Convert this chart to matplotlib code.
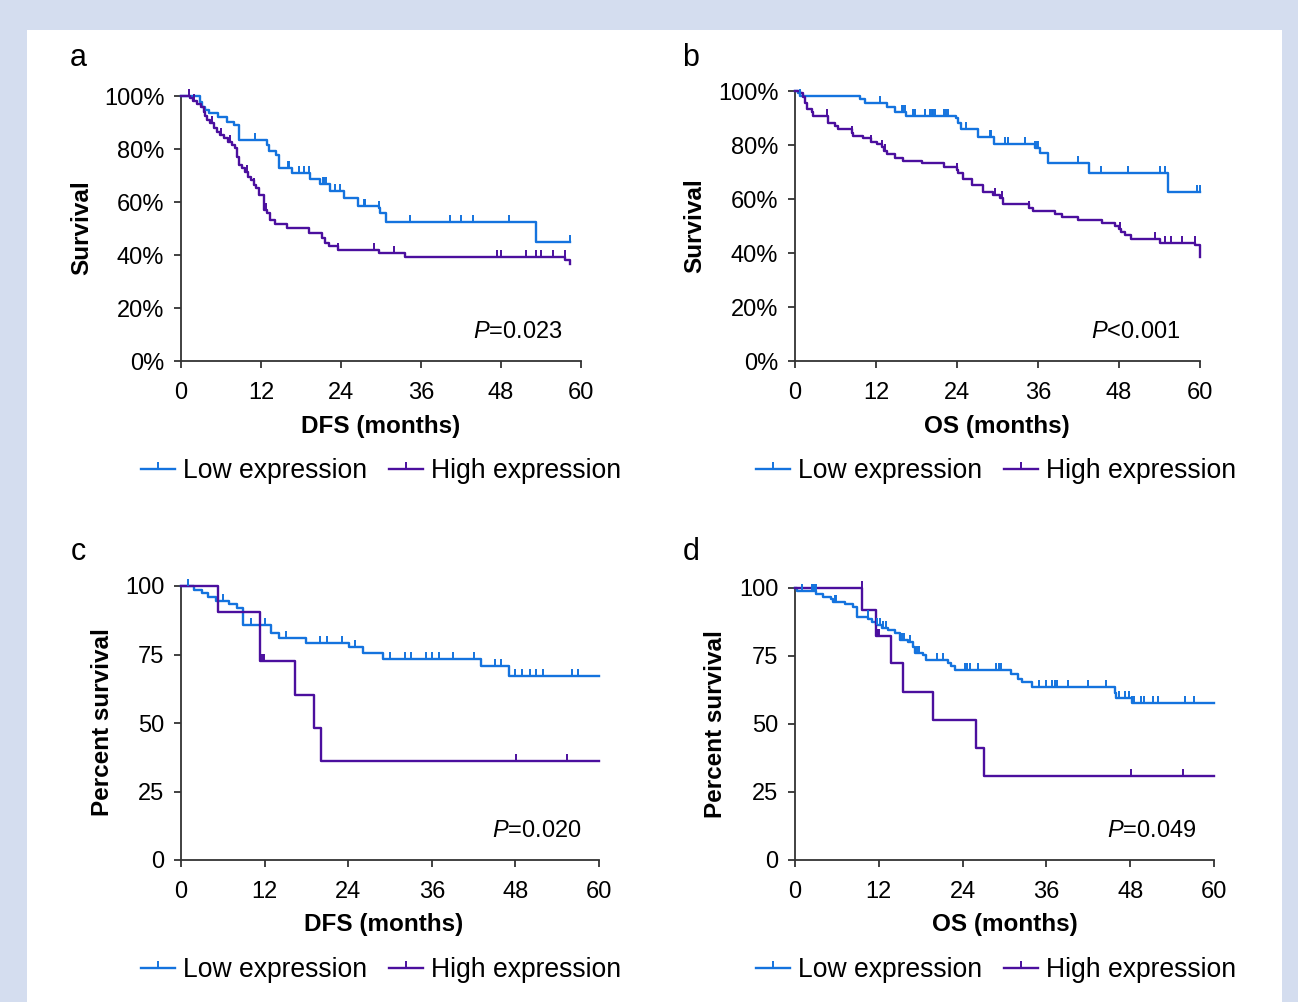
import numpy as np
import matplotlib
matplotlib.use("Agg")
import matplotlib.pyplot as plt
from matplotlib.path import Path
from matplotlib.lines import Line2D
from matplotlib.patches import Rectangle

plt.rcParams['font.family'] = ['Liberation Sans', 'DejaVu Sans']
plt.rcParams['mathtext.fontset'] = 'custom'
plt.rcParams['mathtext.rm'] = 'Liberation Sans'
plt.rcParams['mathtext.it'] = 'Liberation Sans:italic'

# ---------------- data ----------------
# Panel a: DFS, percent
a_low_t = [0, 2.9, 3.15, 3.65, 4.15, 5.55, 6.9, 8.0, 8.65, 12.9, 13.25, 14.25, 14.65, 16.65, 19.4,
           20.9, 22.4, 24.4, 26.55, 29.65, 29.8, 30.75, 53.25]
a_low_s = [100, 97.9, 96.0, 94.7, 93.5, 91.9, 90.3, 89.0, 83.4, 81.5, 79.2, 77.7, 72.9, 70.8, 68.7,
           66.8, 64.3, 61.6, 58.6, 57.6, 55.7, 52.3, 44.8]
a_low_end = 58.4
a_low_cens = [11.15, 16.0, 16.2, 17.65, 18.4, 19.15, 21.3, 21.5, 21.7, 23.15, 23.9, 27.4, 27.6, 29.7,
              34.4, 40.4, 42.0, 43.75, 49.15, 58.4]

a_high_t = [0, 1.4, 1.75, 2.4, 3.0, 3.4, 3.65, 3.9, 4.4, 4.9, 5.4, 5.9, 6.4, 7.05, 7.65, 8.15, 8.4,
            8.75, 9.15, 9.65, 10.0, 10.55, 10.9, 11.25, 11.65, 12.5, 12.9, 13.3, 14.05, 15.9, 19.15,
            21.15, 21.65, 22.15, 23.55, 29.75, 33.65, 57.65, 58.4]
a_high_s = [100, 99.1, 98.2, 97.0, 96.0, 94.1, 92.5, 91.0, 89.7, 87.8, 86.5, 85.3, 84.0, 82.8, 81.5,
            80.3, 77.1, 74.0, 72.7, 71.4, 69.6, 68.3, 66.4, 65.2, 62.6, 57.0, 55.7, 53.2, 51.6, 50.3,
            48.2, 46.3, 44.4, 43.4, 41.9, 40.6, 39.4, 38.1, 36.6]
a_high_end = 58.4
a_high_cens = [1.15, 2.0, 4.6, 6.0, 7.3, 9.9, 11.0, 12.7, 23.6, 28.9, 31.9, 47.4, 48.05, 51.8, 53.25,
               54.05, 55.8, 57.6]

# Panel b: OS, percent
b_low_t = [0, 0.5, 0.74, 9.6, 10.4, 13.6, 14.8, 16.5, 23.8, 24.2, 24.6, 27.1, 29.5, 35.5, 36.3, 37.5,
           43.6, 55.2]
b_low_s = [100, 99.1, 98.3, 96.9, 95.4, 94.0, 92.3, 90.9, 89.9, 88.3, 85.8, 83.1, 80.4, 78.8, 77.2,
           73.5, 69.8, 62.7]
b_low_end = 60.0
b_low_cens = [0.8, 12.6, 15.8, 16.0, 16.3, 17.5, 17.8, 19.3, 20.0, 20.3, 20.5, 20.7, 22.1, 22.4, 22.7,
              25.4, 28.9, 29.1, 31.1, 31.6, 34.1, 35.6, 35.8, 36.0, 41.9, 45.4, 49.4, 54.1, 54.8,
              59.5, 60.0]

b_high_t = [0, 0.74, 1.23, 1.48, 1.73, 2.47, 2.72, 4.84, 4.94, 5.93, 6.42, 8.4, 8.64, 10.1, 11.26,
            12.1, 12.84, 13.2, 13.6, 14.8, 16.05, 18.77, 22.0, 23.95, 24.1, 24.84, 26.2, 27.9, 29.4,
            30.4, 30.8, 34.6, 35.2, 38.5, 39.5, 41.9, 45.5, 47.4, 48.0, 48.3, 48.9, 49.8, 54.1,
            59.3, 60.0]
b_high_s = [100, 99.1, 97.9, 95.4, 93.2, 92.3, 90.7, 89.5, 88.3, 87.0, 86.0, 84.6, 83.5, 82.5, 81.2,
            80.4, 79.4, 77.9, 76.7, 75.3, 74.2, 73.2, 72.0, 70.7, 69.5, 67.3, 65.1, 62.7, 61.5,
            60.2, 58.0, 56.8, 55.7, 54.3, 53.5, 52.2, 51.0, 50.1, 48.8, 47.9, 46.7, 45.2, 43.8,
            43.0, 38.6]
b_high_end = 60.0
b_high_cens = [4.8, 8.5, 11.3, 12.9, 13.4, 24.0, 29.6, 30.6, 34.7, 48.1, 53.4, 54.8, 55.7, 57.4, 59.2]

# Panel c: DFS, percent survival
c_low_t = [0, 1.87, 2.97, 3.93, 4.99, 6.9, 8.0, 8.92, 12.9, 14.0, 18.0, 24.1, 26.1, 29.0, 43.0, 47.05]
c_low_s = [100, 98.5, 97.3, 96.0, 94.6, 93.3, 91.8, 85.7, 82.7, 81.2, 79.3, 77.6, 75.6, 73.5, 70.7, 67.1]
c_low_end = 60.0
c_low_cens = [1.0, 6.0, 10.0, 12.0, 15.0, 20.0, 21.0, 23.1, 25.0, 30.0, 32.1, 33.0, 35.1, 36.1, 37.0,
              39.0, 42.0, 45.0, 46.0, 48.0, 49.0, 50.1, 51.0, 52.0, 56.1, 57.0]

c_high_t = [0, 5.3, 11.3, 16.3, 19.1, 20.1]
c_high_s = [100, 90.6, 72.6, 60.4, 48.3, 36.3]
c_high_end = 60.0
c_high_cens = [11.5, 11.7, 11.9, 48.1, 55.4]

# Panel d: OS, percent survival
d_low_t = [0, 0.3, 3.06, 4.0, 5.2, 5.45, 7.1, 8.3, 8.9, 10.5, 11.0, 11.66, 12.5, 13.3, 14.3, 15.0, 16.2,
           16.9, 17.15, 18.35, 18.8, 21.9, 22.4, 22.9, 31.0, 32.0, 32.5, 34.0, 45.8, 46.0, 48.2]
d_low_s = [100, 99.0, 97.8, 96.8, 96.0, 95.0, 94.0, 92.9, 89.5, 88.6, 87.6, 86.4, 85.4, 84.6, 83.3,
           80.9, 80.3, 78.4, 76.0, 75.4, 73.5, 72.3, 71.3, 69.9, 68.3, 66.5, 65.3, 63.7, 61.3, 59.7, 57.6]
d_low_end = 60.0
d_low_cens = [1.0, 2.4, 2.6, 2.8, 3.0, 5.7, 5.9, 10.4, 11.8, 12.2, 12.6, 13.0, 15.3, 15.6, 16.5, 17.4,
              17.7, 20.3, 21.2, 24.3, 24.7, 25.0, 26.2, 28.8, 29.2, 29.5, 34.9, 36.0, 36.8, 37.2,
              37.5, 39.1, 42.0, 44.6, 46.4, 47.2, 47.8, 48.3, 48.6, 49.5, 50.0, 51.3, 52.0, 55.8, 57.2]

d_high_t = [0, 9.65, 11.56, 13.8, 15.5, 19.7, 25.9, 27.1]
d_high_s = [100, 91.9, 82.5, 72.3, 61.9, 51.5, 41.3, 30.9]
d_high_end = 60.0
d_high_cens = [9.55, 11.6, 11.75, 11.9, 12.05, 48.1, 55.5]

x_ticks = [0, 12, 24, 36, 48, 60]
y_ticks = [0, 20, 40, 60, 80, 100]
y_ticks_pct = ['0%', '20%', '40%', '60%', '80%', '100%']
y_ticks2 = [0, 25, 50, 75, 100]
y_ticks2_lbl = ['0', '25', '50', '75', '100']
series_names = ['Low expression', 'High expression']
p_texts = [r'$P$=0.023', r'$P$<0.001', r'$P$=0.020', r'$P$=0.049']

# ---------------- styling ----------------
W, H = 1298, 1002
C_LOW = '#1473de'
C_HIGH = '#4b0f9e'
BG = '#d4ddef'
AX_C = '#333333'

tick_path = Path([(0, 0), (0, 1)])

fig = plt.figure(figsize=(W / 100, H / 100), dpi=100, facecolor=BG)
fig.patches.append(Rectangle((27 / W, 0), (1282 - 27) / W, (H - 30) / H,
                             transform=fig.transFigure, facecolor='white',
                             edgecolor='none', zorder=-5))


def fx(x):
    return x / W


def fy(y):
    return 1 - y / H


def make_ax(left, right, top, bottom):
    return fig.add_axes([fx(left), fy(bottom), (right - left) / W, (bottom - top) / H])


def km(ax, t, s, end, cens, color):
    tt = list(t) + [end]
    ss = list(s) + [s[-1]]
    ax.step(tt, ss, where='post', color=color, lw=1.7, clip_on=False, zorder=3)
    t_arr = np.array(t)
    idx = np.searchsorted(t_arr, np.array(cens), side='right') - 1
    cv = np.array(s)[idx]
    ax.plot(cens, cv, linestyle='none', marker=tick_path, markersize=10,
            markeredgewidth=1.4, color=color, clip_on=False, zorder=4)


def style_ax(ax, yt, ylbl):
    ax.set_xlim(0, 60)
    ax.set_ylim(0, 100)
    ax.set_xticks(x_ticks)
    ax.set_xticklabels([str(v) for v in x_ticks])
    ax.set_yticks(yt)
    ax.set_yticklabels(ylbl)
    for sp in ['top', 'right']:
        ax.spines[sp].set_visible(False)
    for sp in ['left', 'bottom']:
        ax.spines[sp].set_color(AX_C)
        ax.spines[sp].set_linewidth(1.3)
    ax.tick_params(axis='both', direction='out', length=5, width=1.3, color=AX_C,
                   labelsize=17, labelcolor='black')
    ax.tick_params(axis='x', pad=10)
    ax.tick_params(axis='y', pad=7)
    ax.patch.set_alpha(0)


panels = [
    dict(box=(181, 581, 96, 361), low=(a_low_t, a_low_s, a_low_end, a_low_cens),
         high=(a_high_t, a_high_s, a_high_end, a_high_cens), yt=y_ticks, yl=y_ticks_pct,
         letter='a', lpos=(78, 58), ylab='Survival', ylpos=(82, 228), xlab='DFS (months)',
         xlpos=(381, 427), p=p_texts[0], ppos=(563, 332), leg=(381, 471)),
    dict(box=(795, 1200, 91, 361), low=(b_low_t, b_low_s, b_low_end, b_low_cens),
         high=(b_high_t, b_high_s, b_high_end, b_high_cens), yt=y_ticks, yl=y_ticks_pct,
         letter='b', lpos=(691, 58), ylab='Survival', ylpos=(695, 226), xlab='OS (months)',
         xlpos=(997, 427), p=p_texts[1], ppos=(1181, 332), leg=(996, 471)),
    dict(box=(181, 599, 586, 860), low=(c_low_t, c_low_s, c_low_end, c_low_cens),
         high=(c_high_t, c_high_s, c_high_end, c_high_cens), yt=y_ticks2, yl=y_ticks2_lbl,
         letter='c', lpos=(78, 552), ylab='Percent survival', ylpos=(103, 722),
         xlab='DFS (months)', xlpos=(384, 925), p=p_texts[2], ppos=(582, 831), leg=(381, 970)),
    dict(box=(795, 1214, 588, 860), low=(d_low_t, d_low_s, d_low_end, d_low_cens),
         high=(d_high_t, d_high_s, d_high_end, d_high_cens), yt=y_ticks2, yl=y_ticks2_lbl,
         letter='d', lpos=(691, 552), ylab='Percent survival', ylpos=(716, 724),
         xlab='OS (months)', xlpos=(1005, 925), p=p_texts[3], ppos=(1197, 831), leg=(996, 970)),
]

for P in panels:
    ax = make_ax(*P['box'])
    km(ax, *P['low'], C_LOW)
    km(ax, *P['high'], C_HIGH)
    style_ax(ax, P['yt'], P['yl'])
    fig.text(fx(P['lpos'][0]), fy(P['lpos'][1]), P['letter'], fontsize=22,
             ha='center', va='center')
    fig.text(fx(P['ylpos'][0]), fy(P['ylpos'][1]), P['ylab'], fontsize=17.5,
             fontweight='bold', rotation=90, ha='center', va='center')
    fig.text(fx(P['xlpos'][0]), fy(P['xlpos'][1]), P['xlab'], fontsize=17.5,
             fontweight='bold', ha='center', va='center')
    fig.text(fx(P['ppos'][0]), fy(P['ppos'][1]), P['p'], fontsize=17,
             ha='right', va='center')
    handles = [Line2D([], [], color=C_LOW, lw=1.7, marker=tick_path, markersize=10,
                      markeredgewidth=1.4),
               Line2D([], [], color=C_HIGH, lw=1.7, marker=tick_path, markersize=10,
                      markeredgewidth=1.4)]
    fig.legend(handles, series_names, loc='center',
               bbox_to_anchor=(fx(P['leg'][0]), fy(P['leg'][1])), ncol=2, frameon=False,
               fontsize=19.1, handlelength=1.3, handletextpad=0.3, columnspacing=0.8,
               numpoints=1, borderaxespad=0, borderpad=0)

fig.savefig('out.png', dpi=100, facecolor=BG)
